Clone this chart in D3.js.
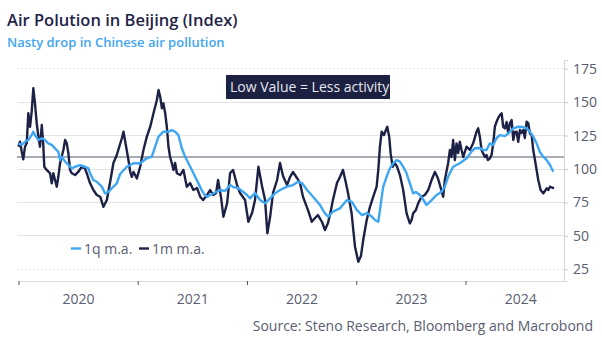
<!DOCTYPE html>
<html>
<head>
<meta charset="utf-8">
<script src="https://cdn.jsdelivr.net/npm/d3@7"></script>
<style>
  body { margin: 0; background: #fff; }
  svg { display: block; font-family: "Open Sans", "Noto Sans", "DejaVu Sans", sans-serif; }
</style>
</head>
<body>
<svg id="chart" width="602" height="344"></svg>
<script>
// Beijing air pollution index, 1-month moving average (dates as fractional years)
const dates1m = [
  2019.906, 2019.921, 2019.937, 2019.951, 2019.967, 2019.983, 2019.997, 2020.013, 2020.028, 2020.043,
  2020.058, 2020.074, 2020.089, 2020.104, 2020.120, 2020.134, 2020.143, 2020.165, 2020.196, 2020.211,
  2020.226, 2020.241, 2020.257, 2020.271, 2020.287, 2020.317, 2020.333, 2020.348, 2020.363, 2020.378,
  2020.394, 2020.424, 2020.454, 2020.485, 2020.515, 2020.531, 2020.561, 2020.591, 2020.622, 2020.653,
  2020.683, 2020.714, 2020.744, 2020.774, 2020.805, 2020.829, 2020.851, 2020.866, 2020.890, 2020.911,
  2020.927, 2020.942, 2020.957, 2020.988, 2021.018, 2021.048, 2021.079, 2021.110, 2021.140, 2021.171,
  2021.186, 2021.201, 2021.217, 2021.231, 2021.247, 2021.262, 2021.277, 2021.292, 2021.308, 2021.323,
  2021.338, 2021.354, 2021.384, 2021.414, 2021.445, 2021.475, 2021.505, 2021.539, 2021.567, 2021.594,
  2021.631, 2021.658, 2021.686, 2021.713, 2021.731, 2021.759, 2021.780, 2021.814, 2021.841, 2021.868,
  2021.905, 2021.932, 2021.978, 2022.008, 2022.042, 2022.069, 2022.100, 2022.133, 2022.161, 2022.182,
  2022.207, 2022.234, 2022.271, 2022.298, 2022.325, 2022.362, 2022.389, 2022.417, 2022.453, 2022.481,
  2022.508, 2022.554, 2022.588, 2022.618, 2022.645, 2022.682, 2022.709, 2022.737, 2022.764, 2022.782,
  2022.819, 2022.846, 2022.874, 2022.901, 2022.920, 2022.953, 2022.984, 2023.014, 2023.038, 2023.059,
  2023.091, 2023.121, 2023.151, 2023.182, 2023.197, 2023.212, 2023.228, 2023.249, 2023.267, 2023.279,
  2023.297, 2023.310, 2023.328, 2023.349, 2023.367, 2023.395, 2023.425, 2023.456, 2023.486, 2023.502,
  2023.516, 2023.541, 2023.562, 2023.593, 2023.623, 2023.654, 2023.685, 2023.715, 2023.742, 2023.761,
  2023.791, 2023.806, 2023.836, 2023.852, 2023.867, 2023.882, 2023.898, 2023.913, 2023.928, 2023.943,
  2023.959, 2023.974, 2024.005, 2024.035, 2024.065, 2024.096, 2024.111, 2024.126, 2024.142, 2024.156,
  2024.172, 2024.187, 2024.199, 2024.218, 2024.233, 2024.248, 2024.263, 2024.279, 2024.293, 2024.309,
  2024.325, 2024.339, 2024.355, 2024.370, 2024.385, 2024.400, 2024.416, 2024.431, 2024.446, 2024.462,
  2024.476, 2024.492, 2024.507, 2024.522, 2024.537, 2024.553, 2024.568, 2024.583, 2024.599, 2024.613,
  2024.629, 2024.644, 2024.659, 2024.681, 2024.705, 2024.720, 2024.736, 2024.751, 2024.766, 2024.782,
  2024.803
];
const values1m = [
  116.7, 120.4, 112.9, 107.3, 116.7, 119.4, 141.7, 131.6, 142.9, 160.4,
  149.1, 134.2, 124.2, 116.7, 132.9, 118.0, 101.7, 99.3, 96.8, 89.3,
  96.8, 91.8, 86.8, 94.2, 104.3, 114.2, 121.7, 119.2, 111.7, 99.3,
  96.8, 95.5, 98.0, 101.7, 100.5, 96.8, 89.3, 84.3, 80.6, 79.3,
  71.8, 76.8, 90.3, 104.5, 110.5, 117.2, 123.0, 127.9, 116.7, 106.7,
  98.0, 94.2, 97.8, 93.0, 101.7, 114.2, 124.2, 131.6, 141.7, 151.6,
  159.1, 154.1, 145.4, 149.1, 141.7, 131.6, 116.7, 109.0, 104.3, 99.3,
  104.5, 96.8, 95.5, 99.3, 86.8, 89.5, 84.3, 85.8, 79.3, 76.8,
  80.6, 84.3, 80.6, 82.1, 91.8, 78.3, 64.3, 74.6, 97.0, 99.3,
  88.0, 82.1, 76.8, 60.6, 67.1, 76.8, 101.7, 87.3, 76.8, 51.9,
  64.1, 82.1, 91.8, 104.5, 94.8, 88.0, 94.0, 97.8, 93.3, 89.5,
  79.3, 69.3, 60.6, 63.4, 65.6, 60.4, 54.4, 59.6, 69.3, 76.8,
  89.5, 94.0, 99.3, 89.5, 82.1, 66.9, 41.9, 30.7, 34.9, 46.9,
  61.9, 71.8, 79.3, 86.8, 99.3, 116.7, 127.9, 125.4, 129.2, 131.6,
  124.2, 111.7, 101.7, 104.3, 102.2, 95.5, 84.3, 66.9, 59.4, 61.9,
  66.9, 69.3, 74.4, 79.3, 80.6, 84.3, 91.8, 97.8, 93.3, 88.0,
  79.3, 91.8, 104.3, 114.2, 109.0, 121.7, 106.7, 119.2, 112.0, 120.4,
  114.2, 109.0, 116.7, 114.2, 119.2, 127.9, 130.4, 124.2, 114.2, 111.7,
  109.0, 110.5, 106.7, 108.0, 110.5, 119.2, 131.6, 135.4, 138.1, 140.4,
  141.7, 131.6, 130.4, 135.2, 126.7, 134.2, 136.6, 121.7, 127.7, 127.9,
  120.4, 129.2, 126.9, 129.2, 123.2, 135.4, 134.2, 126.7, 125.4, 114.2,
  106.7, 99.3, 91.8, 84.3, 81.8, 83.6, 85.6, 84.3, 86.8, 86.2,
  85.6
];

// Same index, 1-quarter moving average
const dates1q = [
  2019.906, 2019.937, 2019.967, 2019.997, 2020.028, 2020.043, 2020.058, 2020.089, 2020.120, 2020.150,
  2020.180, 2020.211, 2020.241, 2020.271, 2020.287, 2020.302, 2020.333, 2020.363, 2020.394, 2020.424,
  2020.470, 2020.515, 2020.546, 2020.561, 2020.591, 2020.622, 2020.668, 2020.698, 2020.729, 2020.774,
  2020.805, 2020.835, 2020.896, 2020.957, 2021.018, 2021.079, 2021.125, 2021.155, 2021.186, 2021.231,
  2021.277, 2021.308, 2021.338, 2021.368, 2021.399, 2021.430, 2021.460, 2021.491, 2021.521, 2021.551,
  2021.576, 2021.603, 2021.631, 2021.658, 2021.695, 2021.750, 2021.795, 2021.841, 2021.868, 2021.914,
  2021.960, 2021.996, 2022.024, 2022.069, 2022.115, 2022.161, 2022.207, 2022.252, 2022.298, 2022.362,
  2022.417, 2022.462, 2022.499, 2022.545, 2022.600, 2022.664, 2022.709, 2022.739, 2022.782, 2022.846,
  2022.910, 2022.956, 2023.002, 2023.048, 2023.093, 2023.139, 2023.166, 2023.197, 2023.212, 2023.242,
  2023.273, 2023.303, 2023.333, 2023.365, 2023.395, 2023.425, 2023.456, 2023.486, 2023.516, 2023.541,
  2023.578, 2023.605, 2023.639, 2023.685, 2023.730, 2023.776, 2023.806, 2023.836, 2023.882, 2023.943,
  2024.005, 2024.050, 2024.080, 2024.126, 2024.156, 2024.187, 2024.218, 2024.248, 2024.279, 2024.309,
  2024.355, 2024.400, 2024.431, 2024.476, 2024.519, 2024.553, 2024.583, 2024.613, 2024.644, 2024.674,
  2024.705, 2024.736, 2024.766, 2024.796
];
const values1q = [
  119.2, 118.0, 120.4, 121.7, 125.4, 127.9, 125.4, 121.7, 123.0, 121.7,
  119.2, 118.0, 115.5, 112.9, 106.7, 109.2, 105.5, 103.0, 100.5, 101.7,
  103.0, 101.7, 100.5, 96.8, 91.8, 90.5, 86.8, 81.8, 83.0, 86.8,
  89.3, 96.3, 101.7, 104.3, 104.3, 108.0, 109.2, 116.7, 124.2, 127.9,
  127.9, 129.2, 127.9, 125.4, 115.5, 109.2, 104.3, 99.3, 94.2, 89.3,
  85.0, 81.3, 79.1, 80.6, 82.1, 84.3, 83.6, 88.0, 86.5, 85.8,
  83.0, 80.6, 78.1, 82.1, 76.8, 74.4, 78.1, 81.8, 84.3, 86.8,
  88.0, 90.5, 89.5, 84.3, 79.3, 73.1, 66.9, 64.3, 68.1, 70.6,
  76.8, 75.5, 69.3, 65.6, 67.1, 64.3, 61.9, 60.6, 69.3, 86.8,
  94.2, 100.5, 104.3, 106.7, 105.5, 101.7, 96.8, 89.3, 81.8, 82.8,
  80.6, 77.6, 73.1, 76.8, 80.6, 83.0, 86.8, 94.2, 101.7, 104.3,
  108.0, 113.0, 115.5, 115.7, 114.2, 114.2, 119.2, 118.0, 123.2, 125.4,
  124.6, 127.7, 130.4, 131.6, 131.4, 130.4, 127.9, 124.2, 119.2, 112.7,
  109.2, 106.7, 103.0, 98.0
];

const yTicks = [25, 50, 75, 100, 125, 150, 175];
const yearLabels = [2020, 2021, 2022, 2023, 2024];
const referenceLevel = 109;
const seriesNames = ["1q m.a.", "1m m.a."];

const titleText = "Air Polution in Beijing (Index)";
const subtitleText = "Nasty drop in Chinese air pollution";
const noteText = "Low Value = Less activity";
const sourceText = "Source: Steno Research, Bloomberg and Macrobond";

const colors = { m1: "#1c2145", q1: "#3ea6f2", text: "#585d70", grid: "#e2e2e6", ref: "#8d909c", title: "#1f2447" };

// fractional year -> UTC date
function fromDecimal(t) {
  const y = Math.floor(t);
  const s = Date.UTC(y, 0, 1), e = Date.UTC(y + 1, 0, 1);
  return new Date(s + (t - y) * (e - s));
}

const svg = d3.select("#chart");
const plot = { left: 19, right: 564, top: 60, bottom: 281 };

const x = d3.scaleUtc()
  .domain([fromDecimal(2019.912), fromDecimal(2024.894)])
  .range([plot.left, plot.right]);
const y = d3.scaleLinear()
  .domain([16.3, 181.5])
  .range([plot.bottom, plot.top]);

// title block
svg.append("text").attr("x", 7).attr("y", 26)
  .attr("font-size", 16.5).attr("font-weight", 600).attr("fill", colors.title)
  .text(titleText);
svg.append("text").attr("x", 7).attr("y", 47)
  .attr("font-size", 13).attr("font-weight", 600).attr("fill", colors.q1)
  .text(subtitleText);

// horizontal gridlines
svg.append("g").selectAll("line").data(yTicks).join("line")
  .attr("x1", 17).attr("x2", plot.right)
  .attr("y1", d => y(d)).attr("y2", d => y(d))
  .attr("stroke", colors.grid).attr("stroke-width", 1)
  .attr("stroke-dasharray", d => (d === 25 || d === 175) ? "2,2" : null)
  .attr("shape-rendering", "crispEdges");

// right value axis
const yAxis = svg.append("g").attr("transform", `translate(${plot.right},0)`)
  .call(d3.axisRight(y).tickValues(yTicks).tickSize(4).tickPadding(5));
yAxis.select(".domain").attr("stroke", "#d4d4da");
yAxis.selectAll(".tick line").attr("stroke", "#c8c8d0");
yAxis.selectAll(".tick text").attr("fill", colors.text).attr("font-size", 14)
  .attr("font-family", '"Open Sans", "Noto Sans", sans-serif');

// bottom time axis: line, ticks at the start and at each year boundary, year labels between ticks
svg.append("line").attr("x1", plot.left).attr("x2", plot.right)
  .attr("y1", plot.bottom).attr("y2", plot.bottom)
  .attr("stroke", "#dcdce2").attr("shape-rendering", "crispEdges");
const tickDates = [x.domain()[0]].concat(yearLabels.slice(1).map(yr => new Date(Date.UTC(yr, 0, 1))));
svg.append("g").selectAll("line").data(tickDates).join("line")
  .attr("x1", d => x(d)).attr("x2", d => x(d))
  .attr("y1", plot.bottom).attr("y2", plot.bottom + 4)
  .attr("stroke", "#4a4f63").attr("stroke-width", 1);
svg.append("g").selectAll("text").data(yearLabels).join("text")
  .attr("x", (yr, i) => {
    const a = i === 0 ? plot.left : x(new Date(Date.UTC(yr, 0, 1)));
    const b = x(new Date(Date.UTC(yr + 1, 0, 1)));
    return (a + b) / 2;
  })
  .attr("y", 304).attr("text-anchor", "middle")
  .attr("font-size", 14).attr("fill", colors.text)
  .text(d => d);

// reference level
svg.append("line").attr("x1", 17).attr("x2", plot.right)
  .attr("y1", y(referenceLevel)).attr("y2", y(referenceLevel))
  .attr("stroke", colors.ref).attr("stroke-width", 1.5);

// series
svg.append("clipPath").attr("id", "plotclip").append("rect")
  .attr("x", 16).attr("y", plot.top).attr("width", plot.right - 16).attr("height", plot.bottom - plot.top);

const line = d3.line().x(d => x(d[0])).y(d => y(d[1]));
const m1 = dates1m.map((t, i) => [fromDecimal(t), values1m[i]]);
const q1 = dates1q.map((t, i) => [fromDecimal(t), values1q[i]]);

const lines = svg.append("g").attr("clip-path", "url(#plotclip)");
lines.append("path").datum(m1).attr("d", line)
  .attr("fill", "none").attr("stroke", colors.m1).attr("stroke-width", 2.4)
  .attr("stroke-linejoin", "round");
lines.append("path").datum(q1).attr("d", line)
  .attr("fill", "none").attr("stroke", colors.q1).attr("stroke-width", 2.4)
  .attr("stroke-linejoin", "round");

// annotation box
const note = svg.append("g");
note.append("rect").attr("x", 226).attr("y", 75).attr("width", 164).attr("height", 24)
  .attr("fill", "#1c2142");
note.append("text").attr("x", 230).attr("y", 92)
  .attr("font-size", 14).attr("fill", "#e8e9f0").text(noteText);

// legend
const legend = svg.append("g");
const legendItems = [
  { name: seriesNames[0], color: colors.q1, x: 71 },
  { name: seriesNames[1], color: colors.m1, x: 139 }
];
legendItems.forEach(it => {
  legend.append("line").attr("x1", it.x).attr("x2", it.x + 10)
    .attr("y1", 248.5).attr("y2", 248.5)
    .attr("stroke", it.color).attr("stroke-width", 2.4);
  legend.append("text").attr("x", it.x + 13).attr("y", 254)
    .attr("font-size", 14).attr("fill", colors.text).text(it.name);
});

// source line
svg.append("text").attr("x", 593).attr("y", 331).attr("text-anchor", "end")
  .attr("font-size", 14).attr("fill", colors.text).text(sourceText);
</script>
</body>
</html>
